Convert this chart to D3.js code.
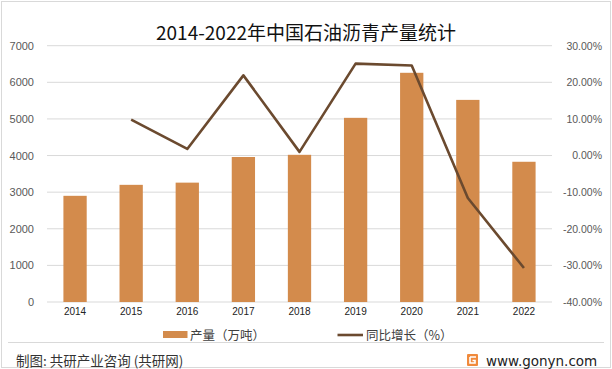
<!DOCTYPE html>
<html><head><meta charset="utf-8">
<script src="https://cdn.jsdelivr.net/npm/d3@7"></script>
<style>body{margin:0;background:#fff;}svg{display:block;}</style>
</head><body>
<svg id="c" width="612" height="369"></svg>
<script>
const years = ["2014","2015","2016","2017","2018","2019","2020","2021","2022"];
const production = [2900, 3200, 3260, 3960, 4020, 5030, 6260, 5520, 3830];
const growth = [null, 9.8, 1.8, 21.9, 1.0, 25.1, 24.6, -11.6, -30.7];
const leftTicks = [0,1000,2000,3000,4000,5000,6000,7000];
const rightTicks = [-40,-30,-20,-10,0,10,20,30];
const titleText = "2014-2022年中国石油沥青产量统计";
const legendLabels = ["产量（万吨）", "同比增长（%）"];

const svg = d3.select("#c");
const font = "'Microsoft YaHei','Noto Sans CJK SC','DejaVu Sans',sans-serif";
const numFont = "'Liberation Sans',Arial,sans-serif";
const W = 612, H = 369;
svg.append("rect").attr("x",1.5).attr("y",1.5).attr("width",W-3).attr("height",H-3)
  .attr("fill","#fff").attr("stroke","#d9d9d9");

const x0 = 47, x1 = 552, yTop = 45.7, yBot = 302;
const x = d3.scaleBand().domain(years).range([x0,x1]).paddingInner(0.585).paddingOuter(0.2925);
const yL = d3.scaleLinear().domain([0,7000]).range([yBot,yTop]);
const yR = d3.scaleLinear().domain([-40,30]).range([yBot,yTop]);
const xc = d => x(d) + x.bandwidth()/2;

// gridlines
svg.append("g").selectAll("line").data(leftTicks).join("line")
  .attr("x1",x0).attr("x2",x1).attr("y1",d=>yL(d)).attr("y2",d=>yL(d))
  .attr("stroke","#d9d9d9").attr("stroke-width",1);

// left axis
const axL = d3.axisLeft(yL).tickValues(leftTicks).tickSize(0).tickPadding(0).tickFormat(d3.format("d"));
svg.append("g").attr("transform","translate(34,0)").call(axL)
  .call(g=>g.select(".domain").remove())
  .selectAll("text").attr("fill","#595959").style("font-family",numFont).style("font-size","11px");

// right axis
const axR = d3.axisRight(yR).tickValues(rightTicks).tickSize(0).tickPadding(0).tickFormat(d=>d.toFixed(2)+"%");
svg.append("g").attr("transform","translate(602,0)").call(axR)
  .call(g=>g.select(".domain").remove())
  .selectAll("text").attr("fill","#595959").attr("text-anchor","end").style("font-family",numFont).style("font-size","10.5px");

// bars
svg.append("g").selectAll("rect").data(production).join("rect")
  .attr("x",(d,i)=>x(years[i])).attr("width",x.bandwidth())
  .attr("y",d=>yL(d)).attr("height",d=>yBot-yL(d)).attr("fill","#D38B4C");

// x axis
const axX = d3.axisBottom(x).tickSize(0).tickPadding(0);
svg.append("g").attr("transform",`translate(0,${yBot+6})`).call(axX)
  .call(g=>g.select(".domain").remove())
  .selectAll("text").attr("fill","#222").style("font-family",numFont).style("font-size","10px");

// line
const pts = years.map((yv,i)=>({x:xc(yv), v:growth[i]})).filter(p=>p.v!==null);
svg.append("path").datum(pts)
  .attr("d",d3.line().x(p=>p.x).y(p=>yR(p.v)))
  .attr("fill","none").attr("stroke","#6B4A2F").attr("stroke-width",2.6).attr("stroke-linejoin","round");

// title
svg.append("text").attr("x",306).attr("y",40).attr("text-anchor","middle")
  .style("font-family",font).style("font-size","19px").attr("fill","#111").text(titleText);

// legend
const lg = svg.append("g");
lg.append("rect").attr("x",163).attr("y",331).attr("width",24.5).attr("height",7).attr("fill","#D38B4C");
lg.append("text").attr("x",190).attr("y",339.5).style("font-family",font).style("font-size","12.5px").attr("fill","#404040").text(legendLabels[0]);
lg.append("line").attr("x1",337.5).attr("x2",363).attr("y1",335).attr("y2",335).attr("stroke","#6B4A2F").attr("stroke-width",2.6);
lg.append("text").attr("x",366).attr("y",339.5).style("font-family",font).style("font-size","12.5px").attr("fill","#404040").text(legendLabels[1]);

// footer
svg.append("line").attr("x1",8).attr("x2",604).attr("y1",342.5).attr("y2",342.5).attr("stroke","#d9d9d9");
svg.append("text").attr("x",16).attr("y",366).style("font-family",font).style("font-size","13.5px").attr("fill","#333").text("制图: 共研产业咨询 (共研网)");
const lgo = svg.append("g").attr("transform","translate(467,354)");
lgo.append("rect").attr("width",11).attr("height",12).attr("fill","#F08A3C").attr("rx",1);
lgo.append("path").attr("d","M3,3 H9 M3,3 V9 H8 V6.5 H5.5").attr("stroke","#fff").attr("stroke-width",1.6).attr("fill","none");
svg.append("text").attr("x",486).attr("y",366).style("font-family","'DejaVu Sans',sans-serif").style("font-size","13.5px").attr("fill","#222").text("www.gonyn.com");
</script>
</body></html>
